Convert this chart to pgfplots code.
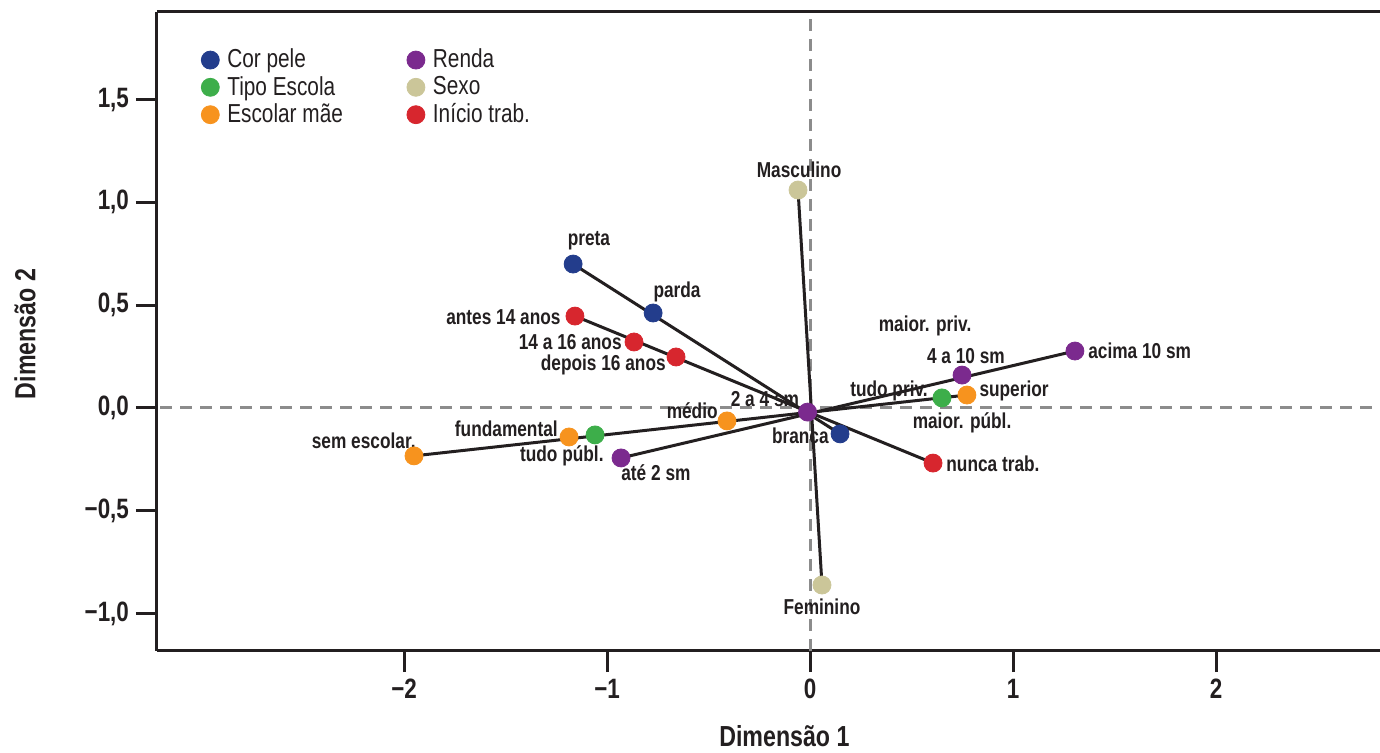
\documentclass[border=0pt]{standalone}
\usepackage{fontspec}
\setmainfont{Liberation Sans}[FakeStretch=0.8]
\usepackage{pgfplots}
\pgfplotsset{compat=1.18}
\definecolor{cblue}{RGB}{35,61,140}
\definecolor{cgreen}{RGB}{61,174,74}
\definecolor{corange}{RGB}{247,147,30}
\definecolor{cpurple}{RGB}{123,42,142}
\definecolor{ckhaki}{RGB}{203,198,153}
\definecolor{cred}{RGB}{215,38,46}
\definecolor{cdark}{RGB}{35,31,32}
\begin{document}
\begin{tikzpicture}
\begin{axis}[
  scale only axis, width=611.5pt, height=319.5pt,
  xmin=-3.217, xmax=2.808, ymin=-1.182, ymax=1.926,
  axis x line=box, axis y line=left,
  axis line style={-, line width=1.5pt, cdark},
  tick align=outside, major tick length=10.5pt,
  tick style={line width=1.5pt, cdark},
  xtick={-2,-1,0,1,2}, xticklabels={−2,−1,0,1,2},
  ytick={-1,-0.5,0,0.5,1,1.5},
  yticklabels={{−1,0},{−0,5},{0,0},{0,5},{1,0},{1,5}},
  ticklabel style={font=\fontsize{14}{16}\selectfont\bfseries, text=cdark},
  xtick pos=bottom, ytick pos=left,
  xlabel={Dimensão 1}, ylabel={Dimensão 2},
  label style={font=\fontsize{14.5}{17}\selectfont\bfseries, text=cdark},
  xlabel style={at={(axis description cs:0.513,-0.133)}, anchor=center},
  ylabel style={at={(axis description cs:-0.108,0.496)}, anchor=center},
  legend columns=2,
  legend style={draw=none, fill=none, at={(axis description cs:0.031,0.955)}, anchor=north west,
    font=\fontsize{13}{15}\selectfont, text=cdark, row sep=-1.3pt,
    /tikz/every odd column/.append style={column sep=2pt},
    /tikz/every even column/.append style={column sep=30pt}},
  legend cell align=left,
  clip=false,
]
\draw[gray!90, line width=1.5pt, dash pattern=on 6pt off 4pt] (axis cs:0,-1.182) -- (axis cs:0,1.926);
\draw[gray!90, line width=1.5pt, dash pattern=on 6pt off 4pt] (axis cs:-3.2,0) -- (axis cs:2.808,0);
\addplot[only marks, mark=*, mark size=4.5pt, color=cblue] coordinates {(-1.167,0.700) (-0.773,0.462) (0.148,-0.126)};
\addlegendentry{Cor pele}
\addplot[only marks, mark=*, mark size=4.5pt, color=cpurple] coordinates {(1.305,0.277) (0.749,0.160) (-0.012,-0.020) (-0.931,-0.243)};
\addlegendentry{Renda}
\addplot[only marks, mark=*, mark size=4.5pt, color=cgreen] coordinates {(0.650,0.049) (-1.059,-0.131)};
\addlegendentry{Tipo Escola}
\addplot[only marks, mark=*, mark size=4.5pt, color=ckhaki] coordinates {(-0.059,1.060) (0.059,-0.861)};
\addlegendentry{Sexo}
\addplot[only marks, mark=*, mark size=4.5pt, color=corange] coordinates {(0.773,0.063) (-0.409,-0.063) (-1.187,-0.141) (-1.951,-0.233)};
\addlegendentry{Escolar mãe}
\addplot[only marks, mark=*, mark size=4.5pt, color=cred] coordinates {(-1.158,0.447) (-0.867,0.321) (-0.660,0.248) (0.606,-0.268)};
\addlegendentry{Início trab.}
% connecting lines
\addplot[forget plot, cdark, line width=1.5pt] coordinates {(-1.167,0.700) (0.148,-0.126)};
\addplot[forget plot, cdark, line width=1.5pt] coordinates {(1.305,0.277) (-0.931,-0.243)};
\addplot[forget plot, cdark, line width=1.5pt] coordinates {(-0.059,1.060) (0.059,-0.861)};
\addplot[forget plot, cdark, line width=1.5pt] coordinates {(0.773,0.063) (-1.951,-0.233)};
\addplot[forget plot, cdark, line width=1.5pt] coordinates {(-1.158,0.447) (0.606,-0.268)};
% labels
\begin{scope}[every node/.style={font=\fontsize{10.8}{12}\selectfont\bfseries, text=cdark, inner sep=0pt}]
\node at (axis cs:-0.054,1.158) {Masculino};
\node at (axis cs:-1.089,0.812) {preta};
\node at (axis cs:-0.655,0.564) {parda};
\node[anchor=east] at (axis cs:-1.227,0.443) {antes 14 anos};
\node[anchor=east] at (axis cs:-0.926,0.321) {14 a 16 anos};
\node[anchor=east] at (axis cs:-0.709,0.209) {depois 16 anos};
\node at (axis cs:0.567,0.399) {maior. priv.};
\node at (axis cs:0.768,0.253) {4 a 10 sm};
\node[anchor=west] at (axis cs:1.369,0.277) {acima 10 sm};
\node at (axis cs:0.389,0.083) {tudo priv.};
\node[anchor=west] at (axis cs:0.833,0.083) {superior};
\node at (axis cs:0.749,-0.073) {maior. públ.};
\node at (axis cs:-0.222,0.044) {2 a 4 sm};
\node[anchor=east] at (axis cs:-0.453,-0.015) {médio};
\node[anchor=east] at (axis cs:0.094,-0.136) {branca};
\node[anchor=west] at (axis cs:0.670,-0.272) {nunca trab.};
\node[anchor=east] at (axis cs:-1.241,-0.102) {fundamental};
\node[anchor=east] at (axis cs:-1.941,-0.160) {sem escolar.};
\node[anchor=east] at (axis cs:-1.015,-0.233) {tudo públ.};
\node at (axis cs:-0.759,-0.316) {até 2 sm};
\node at (axis cs:0.059,-0.968) {Feminino};
\end{scope}
\coordinate (sw) at (rel axis cs:0,0);
\end{axis}
\pgfresetboundingbox
\path ([shift={(-78.5pt,-51pt)}]sw) rectangle ++(690pt,376.5pt);
\end{tikzpicture}
\end{document}
